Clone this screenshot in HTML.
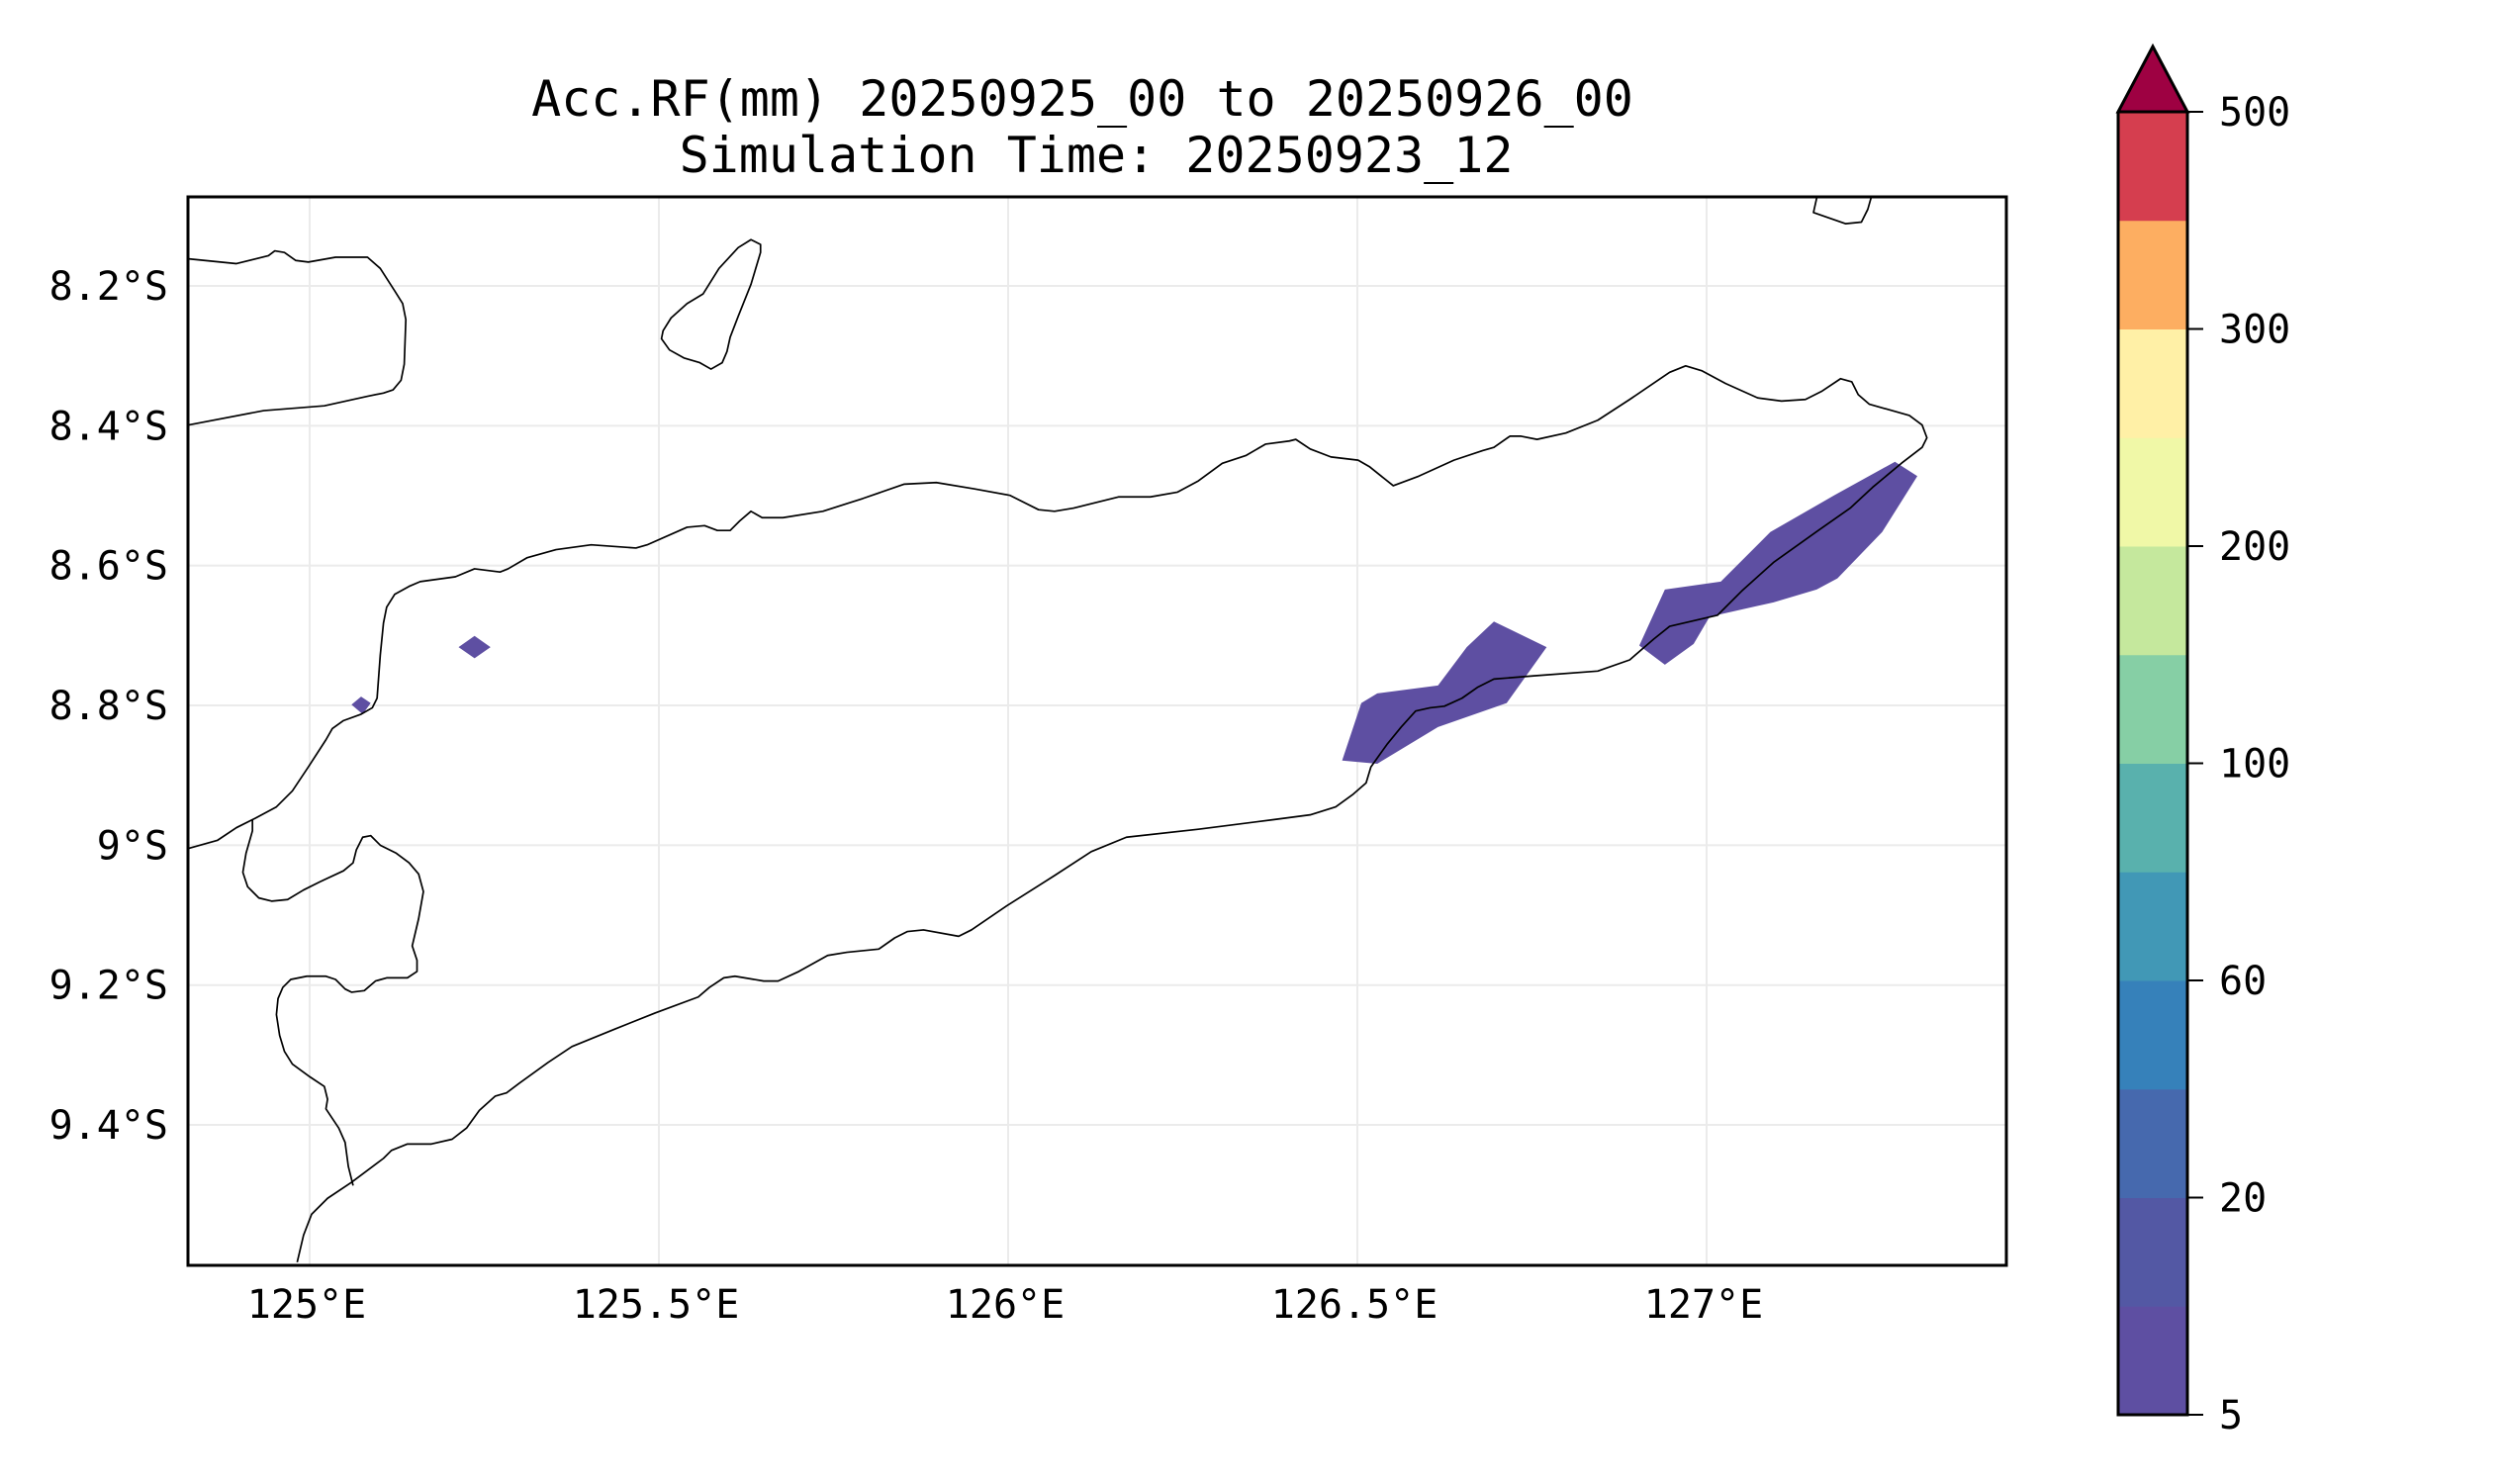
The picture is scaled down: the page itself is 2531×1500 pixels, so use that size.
<!DOCTYPE html>
<html><head><meta charset="utf-8"><style>
html,body{margin:0;padding:0;background:#fff;}
svg{display:block;}
text{font-family:"DejaVu Sans Mono","Liberation Mono",monospace;fill:#000;}
</style></head><body>
<svg id="fig" width="2531" height="1500" viewBox="0 0 2531 1500" xmlns="http://www.w3.org/2000/svg">
<text x="1094" y="117" font-size="50" text-anchor="middle">Acc.RF(mm) 20250925_00 to 20250926_00</text>
<text x="1108" y="174" font-size="50" text-anchor="middle">Simulation Time: 20250923_12</text>
<defs><clipPath id="clip"><rect x="190" y="199" width="1838" height="1080"/></clipPath></defs>
<g id="grid"></g>
<g clip-path="url(#clip)">
<g transform="scale(1.615)" fill="none" stroke="#000" stroke-width="1.05" stroke-linejoin="round">
<g fill="#5e4fa2" stroke="none">
<polygon points="840,476 852,440 862,434 900,429 918,405 935,389 968,405 943,440 900,455 862,478"/>
<polygon points="1026,404 1042,369 1077,364 1108,333 1148,310 1186,289 1200,298 1178,333 1150,362 1137,369 1110,377 1070,386 1060,403 1042,416"/>
<polygon points="287,405 297,398 307,405 297,412"/>
<polygon points="220,441 226,436 232,440 227,447"/>
</g>
<polyline points="118,531 136,526 148,518 160,512 173,505 183,495 193,480 204,463 208,456 215,451 226,447 233,443 236,437 238,410 240,390 242,380 247,372 256,367 263,364 285,361 297,356 313,358 318,356 330,349 348,344 370,341 398,343 405,341 430,330 441,329 449,332 457,332 463,326 470,320 477,324 490,324 515,320 540,312 566,303 586,302 610,306 632,310 650,319 660,320 672,318 700,311 720,311 737,308 750,301 765,290 780,285 792,278 807,276 811,275 820,281 833,286 850,288 857,292 872,304 888,298 910,288 928,282 935,280 945,273 952,273 962,275 980,271 1000,263 1020,250 1045,233 1055,229 1065,232 1080,240 1100,249 1115,251 1130,250 1140,245 1152,237 1159,239 1163,247 1170,253 1195,260 1203,266 1206,274 1203,280 1190,290 1172,305 1158,318 1138,332 1110,352 1090,370 1075,385 1045,392 1035,400 1020,413 1000,420 960,423 935,425 925,430 915,437 904,442 895,443 886,445 877,455 868,466 858,480 855,490 847,497 836,505 820,510 797,513 750,519 705,524 683,533 660,548 630,567 608,582 600,586 578,582 568,583 560,587 550,594 530,596 518,598 500,608 487,614 478,614 460,611 453,612 444,618 437,624 410,634 385,644 358,655 343,665 325,678 317,684 310,686 300,695 292,706 283,713 270,716 255,716 245,720 240,725 220,740 205,750 195,760 190,773 186,790"/>
<polyline points="158,513 158,520 154,534 152,546 155,555 162,562 170,564 180,563 190,557 200,552 215,545 221,540 223,532 227,524 232,523 238,529 248,534 256,540 262,547 265,558 262,575 258,592 261,601 261,608 255,612 242,612 235,614 228,620 220,621 216,619 210,613 204,611 192,611 182,613 177,618 174,625 173,635 175,648 178,658 183,666 194,674 203,680 205,688 204,694 212,706 216,715 218,730 221,742"/>
<polyline points="118,162 148,165 168,160 172,157 178,158 185,163 193,164 210,161 230,161 238,168 247,182 252,190 254,200 253,228 251,238 246,244 240,246 230,248 203,254 165,257 118,266"/>
<polygon points="476,153 470,150 462,155 450,168 440,184 430,190 420,199 415,207 414,212 419,219 428,224 438,227 445,231 452,227 455,220 457,211 462,198 470,178 476,158"/>
<polyline points="1137,124 1135,133 1155,140 1165,139 1169,131 1171,124"/>
</g>
</g>
<rect x="190" y="199" width="1838" height="1080" fill="none" stroke="#000" stroke-width="3"/>
<g id="xt"></g>
<g id="yt"></g>
<g id="cbar"></g>
</svg>
<script>
const lonTicks=[125,125.5,126,126.5,127];
const lonLabels=["125°E","125.5°E","126°E","126.5°E","127°E"];
const latTicks=[8.2,8.4,8.6,8.8,9.0,9.2,9.4];
const latLabels=["8.2°S","8.4°S","8.6°S","8.8°S","9°S","9.2°S","9.4°S"];
const cbLevels=[5,10,20,40,60,80,100,150,200,250,300,400,500];
const cbColors=["#5e4fa2","#5358a4","#4669ae","#3681ba","#4198b6","#59b1ad","#86cfa5","#c5e89d","#f0f8a7","#fff0a6","#fdae61","#d53e4f"];
const cbOverColor="#9e0142";
const cbTickLabels=["5","20","60","100","200","300","500"];
const cbTickIdx=[0,2,4,6,8,10,12];
const NS="http://www.w3.org/2000/svg";
const X=lon=>310+(lon-125)*706;
const Y=lat=>289+(lat-8.2)*706.7;
function mk(t,a,p){const e=document.createElementNS(NS,t);for(const k in a)e.setAttribute(k,a[k]);p.appendChild(e);return e;}
const grid=document.getElementById('grid'),xt=document.getElementById('xt'),yt=document.getElementById('yt'),cb=document.getElementById('cbar');
lonTicks.forEach((v,i)=>{
 const l=mk('line',{x1:X(v)+3,x2:X(v)+3,y1:199,y2:1279,stroke:'#ebebeb','stroke-width':2},grid);
 
 
 const t=mk('text',{x:X(v),y:1332,'font-size':40,'text-anchor':'middle'},xt);
 t.textContent=lonLabels[i];
 
 
});
latTicks.forEach((v,i)=>{
 const l=mk('line',{x1:190,x2:2028,y1:Y(v),y2:Y(v),stroke:'#ebebeb','stroke-width':2},grid);
 
 
 const t=mk('text',{x:170,y:Y(v)+14,'font-size':40,'text-anchor':'end'},yt);
 t.textContent=latLabels[i];
 
 
});
const cx0=2141,cx1=2211,cTop=113,cBot=1430,n=cbColors.length,h=(cBot-cTop)/n;
const CY=i=>cBot-i*h;
cbColors.forEach((c,i)=>{
 const r=mk('rect',{x:cx0,y:CY(i+1),width:cx1-cx0,height:h+0.5,fill:c},cb);
 
 
});
const tri=mk('polygon',{points:`${cx0},${cTop} ${(cx0+cx1)/2},47 ${cx1},${cTop}`,fill:cbOverColor,stroke:'#000','stroke-width':3,'stroke-linejoin':'miter'},cb);


const fr=mk('polyline',{points:`${cx0},${cTop} ${cx0},${cBot} ${cx1},${cBot} ${cx1},${cTop}`,fill:'none',stroke:'#000','stroke-width':3},cb);


cbTickIdx.forEach((k,i)=>{
 const y=CY(k);
 const tk=mk('line',{x1:cx1,x2:2227,y1:y,y2:y,stroke:'#000','stroke-width':2},cb);
 
 
 const t=mk('text',{x:2243,y:y+14,'font-size':40},cb);
 t.textContent=cbTickLabels[i];
 
 
});
</script>
</body></html>
